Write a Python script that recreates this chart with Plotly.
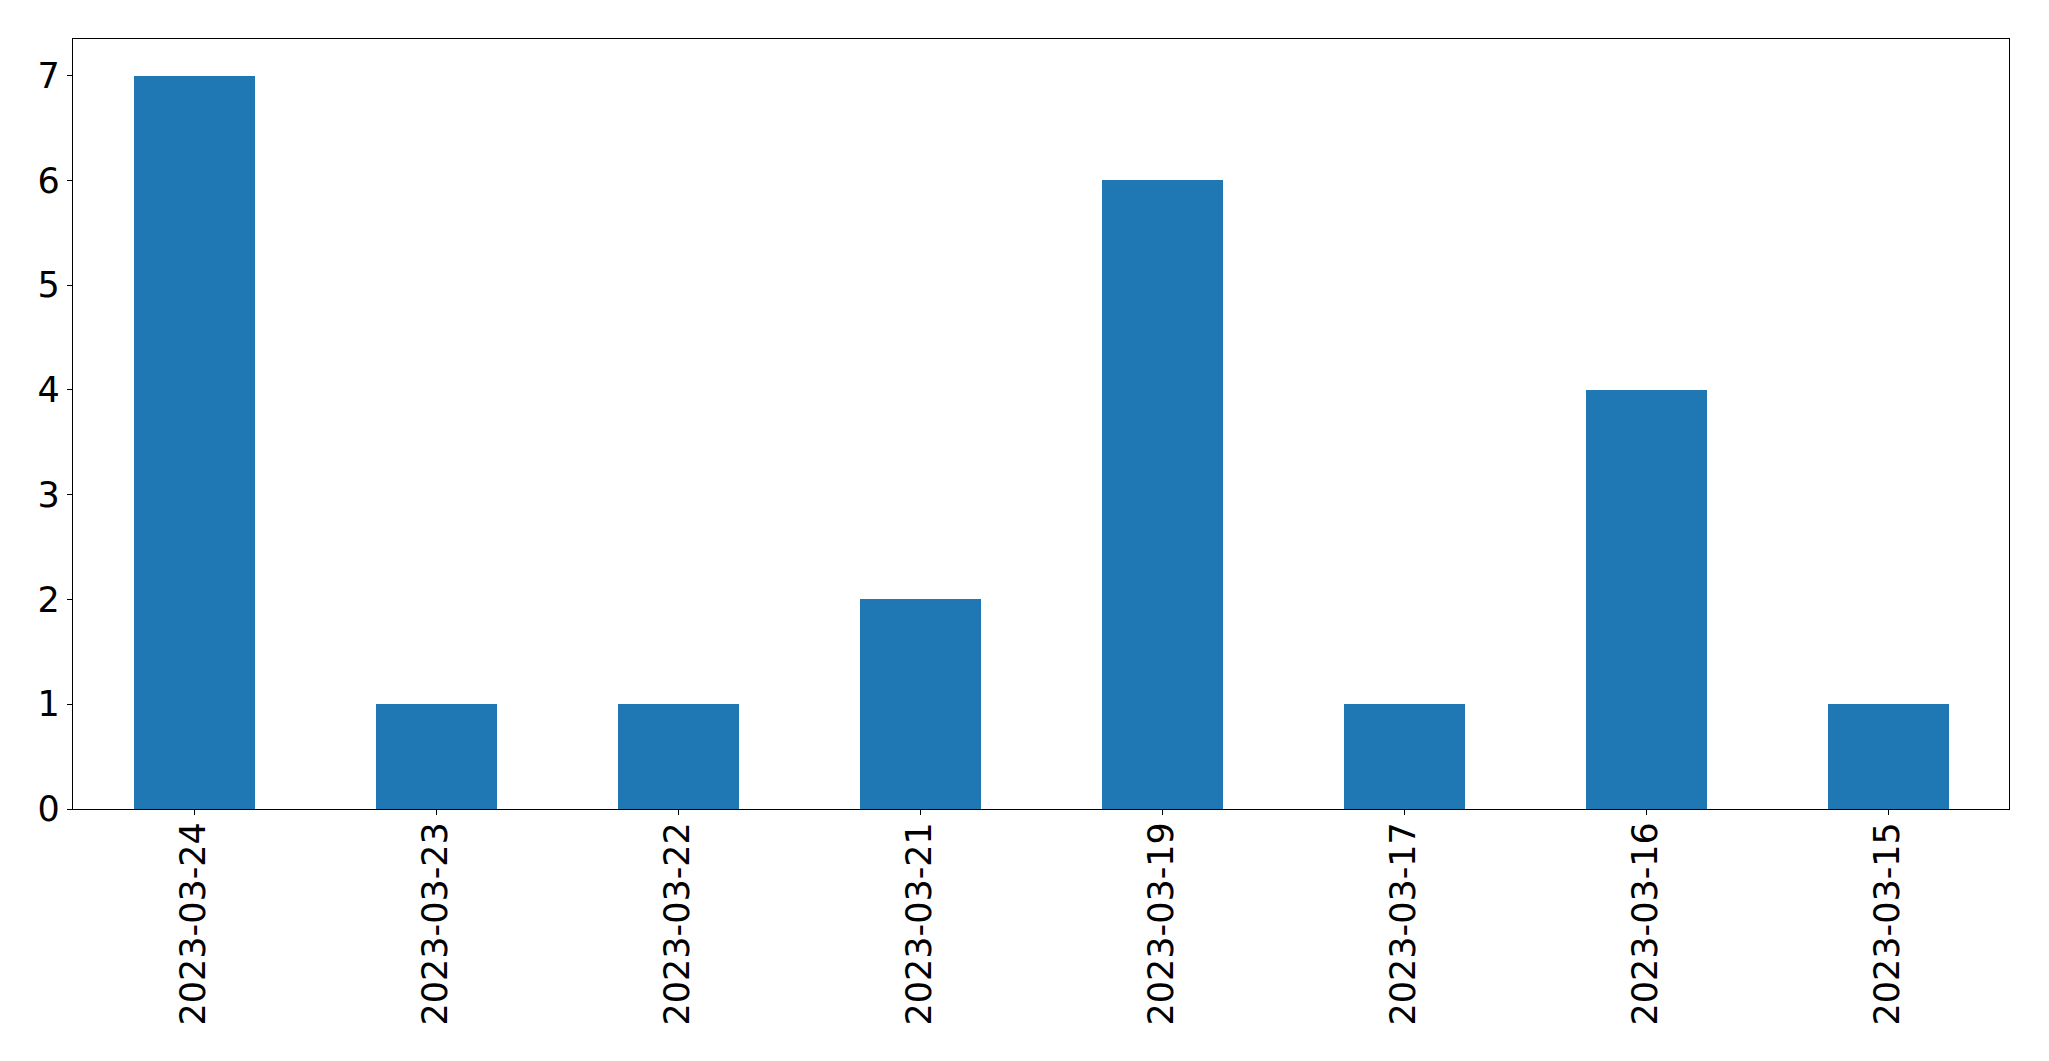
import plotly.graph_objects as go

dates = ["2023-03-24", "2023-03-23", "2023-03-22", "2023-03-21",
         "2023-03-19", "2023-03-17", "2023-03-16", "2023-03-15"]
counts = [7, 1, 1, 2, 6, 1, 4, 1]
y_ticks = [0, 1, 2, 3, 4, 5, 6, 7]

fig = go.Figure(go.Bar(
    x=list(range(len(dates))), y=counts, width=0.5,
    marker=dict(color="#1f77b4", line=dict(width=0)),
))

fig.update_layout(
    width=2049, height=1061,
    margin=dict(l=65, r=48, t=31, b=260, pad=0, autoexpand=False),
    paper_bgcolor="white", plot_bgcolor="white",
    font=dict(family="DejaVu Sans", size=35, color="black"),
    showlegend=False,
    bargap=0,
)
fig.update_xaxes(
    range=[-0.5, 7.5], tickmode="array", tickvals=list(range(len(dates))),
    ticktext=dates, tickangle=-90, automargin=False, ticklabelstandoff=-7,
    showline=True, linecolor="black", linewidth=1.3, mirror=True,
    ticks="outside", ticklen=5, tickwidth=1.3, tickcolor="black",
    showgrid=False, zeroline=False,
)
fig.update_yaxes(
    range=[0, 7.35], tickmode="array", tickvals=y_ticks, automargin=False,
    showline=True, linecolor="black", linewidth=1.3, mirror=True,
    ticks="outside", ticklen=5, tickwidth=1.3, tickcolor="black",
    showgrid=False, zeroline=False,
)

fig.write_html("out.html")
